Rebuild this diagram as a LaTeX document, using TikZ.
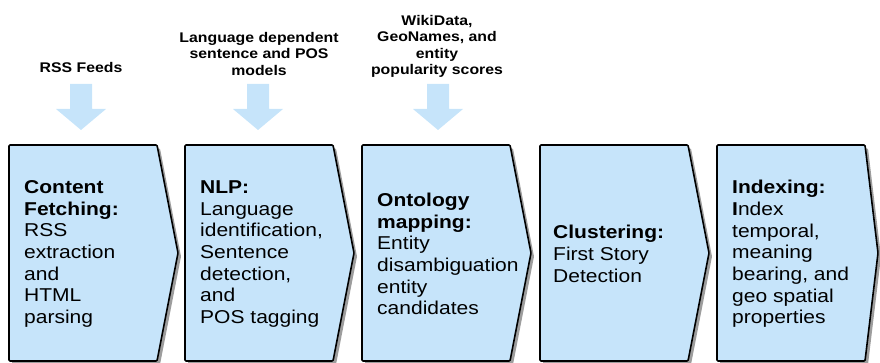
\documentclass[tikz,border=0pt]{standalone}
\usepackage{fontspec}
\setmainfont{Liberation Sans}[FakeStretch=1.13]
\usetikzlibrary{shadows}
\definecolor{stagefill}{HTML}{C6E4FA}
\tikzset{
  stage/.style={fill=stagefill, draw=black, line width=1.6pt, line join=round,
    rounded corners=1pt,
    drop shadow={shadow xshift=3pt, shadow yshift=-3.5pt, opacity=0.55, fill=black!70}},
  stagetext/.style={anchor=west, align=left, inner sep=0pt,
    font=\fontsize{18.6}{21.7}\selectfont},
  feed/.style={fill=stagefill},
  feedtext/.style={anchor=north, align=center, inner sep=0pt,
    font=\fontsize{14}{16.5}\selectfont\bfseries},
}
\begin{document}
\begin{tikzpicture}[x=1pt,y=-1pt]
      \def\ytop{145};
      \def\ybot{361};
      \def\ymid{253};
      \def\w{148};
      \def\p{21};
      \useasboundingbox (0,0) rectangle (880,363);
      % stages
      \draw[stage] (9,\ytop) -- ++(\w,0) -- (9+\w+\p,\ymid) -- (9+\w,\ybot) -- (9,\ybot) -- cycle;
      \draw[stage] (185,\ytop) -- ++(\w,0) -- (185+\w+\p,\ymid) -- (185+\w,\ybot) -- (185,\ybot) -- cycle;
      \draw[stage] (362,\ytop) -- ++(\w,0) -- (362+\w+\p,\ymid) -- (362+\w,\ybot) -- (362,\ybot) -- cycle;
      \draw[stage] (540,\ytop) -- ++(\w,0) -- (540+\w+\p,\ymid) -- (540+\w,\ybot) -- (540,\ybot) -- cycle;
      \draw[stage] (717,\ytop) -- ++(\w,0) -- (878,\ymid) -- (717+\w,\ybot) -- (717,\ybot) -- cycle;
      \node[stagetext] (fetch) at (24,254) {\textbf{Content}\\\textbf{Fetching:}\\RSS\\extraction\\and\\HTML\\parsing};
      \node[stagetext] (nlp) at (200,254) {\textbf{NLP:}\\Language\\identification,\\Sentence\\detection,\\and\\POS tagging};
      \node[stagetext] (onto) at (377,254) {\textbf{Ontology}\\\textbf{mapping:}\\Entity\\disambiguation\\entity\\candidates};
      \node[stagetext] (clust) at (553,254) {\textbf{Clustering:}\\First Story\\Detection};
      \node[stagetext] (index) at (732,254) {\textbf{Indexing:}\\\textbf{I}ndex\\temporal,\\meaning\\bearing, and\\geo spatial\\properties};
      % inputs
      \node[feedtext] (rss) at (81,62.5) {RSS Feeds};
      \node[feedtext] (models) at (259,32) {Language dependent\\sentence and POS\\models};
      \node[feedtext] (kb) at (437,15) {WikiData,\\GeoNames, and\\entity\\popularity scores};
      \fill[feed] (70,84) -- (92,84) -- (92,109) -- (106,109) -- (81,130) -- (56,109) -- (70,109) -- cycle;
      \fill[feed] (247,84) -- (269,84) -- (269,109) -- (283,109) -- (258,130) -- (233,109) -- (247,109) -- cycle;
      \fill[feed] (427,84) -- (449,84) -- (449,109) -- (463,109) -- (438,130) -- (413,109) -- (427,109) -- cycle;
\end{tikzpicture}
\end{document}
